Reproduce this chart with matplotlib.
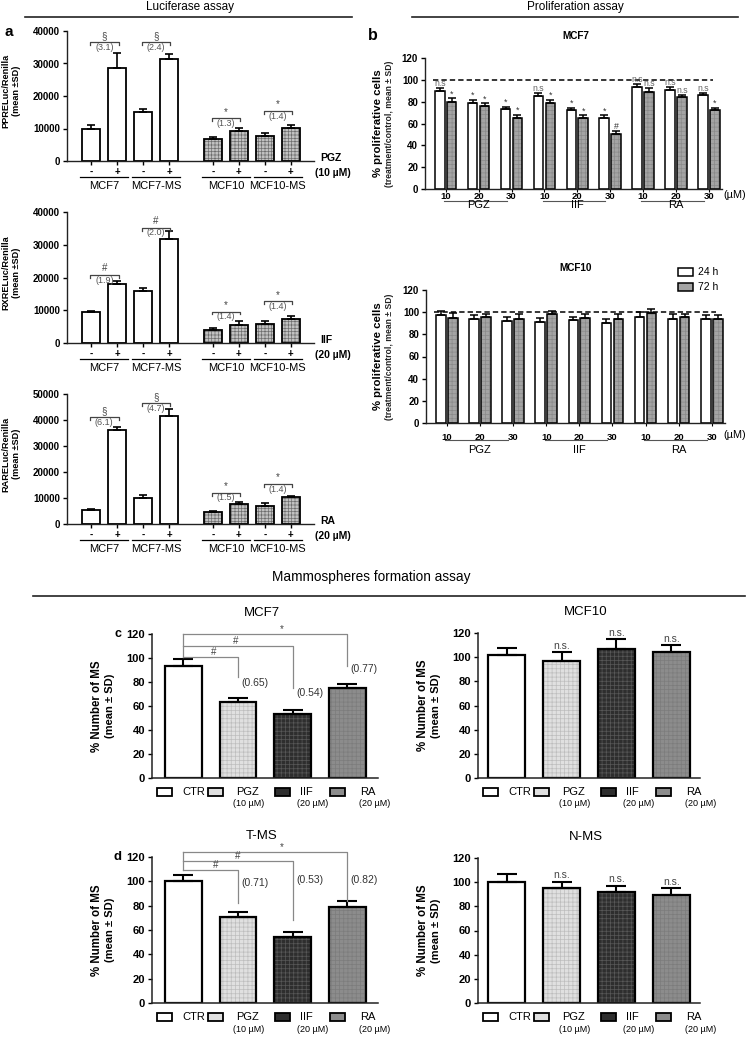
import numpy as np
import matplotlib
matplotlib.use('Agg')
import matplotlib.pyplot as plt
from matplotlib import transforms
from matplotlib.patches import Rectangle

plt.rcParams['font.family'] = ['Liberation Sans', 'DejaVu Sans']
plt.rcParams['hatch.linewidth'] = 0.5

# ---- panel a: luciferase assay ----
lucif_groups = ['MCF7', 'MCF7-MS', 'MCF10', 'MCF10-MS']
lucif_signs = ['-', '+'] * 4
ppre_mean = [10000, 28600, 15000, 31500, 6700, 9100, 7700, 10300]
ppre_err = [1000, 4500, 1000, 1500, 700, 1200, 900, 800]
ppre_sig = ['§', '§', '*', '*']
ppre_ratio = ['(3.1)', '(2.4)', '(1.3)', '(1.4)']
ppre_bracket = [36600, 36600, 13100, 15400]

rxre_mean = [9500, 18000, 15800, 31900, 4000, 5600, 5900, 7300]
rxre_err = [300, 800, 1000, 2300, 700, 1000, 700, 800]
rxre_sig = ['#', '#', '*', '*']
rxre_ratio = ['(1.9)', '(2.0)', '(1.4)', '(1.4)']
rxre_bracket = [20800, 35200, 9600, 12800]

rare_mean = [5500, 36100, 10000, 41600, 4700, 7600, 7100, 10300]
rare_err = [300, 1200, 1000, 2500, 300, 800, 900, 500]
rare_sig = ['§', '§', '*', '*']
rare_ratio = ['(6.1)', '(4.7)', '(1.5)', '(1.4)']
rare_bracket = [41000, 46400, 12000, 15400]

# ---- panel b: proliferation assay ----
prolif_conc = ['10', '20', '30'] * 3
prolif_drugs = ['PGZ', 'IIF', 'RA']
mcf7_24 = [90, 79, 73, 85, 72, 65, 93, 91, 86]
mcf7_24_err = [2.5, 2.5, 2.5, 3, 2.5, 2.5, 3.5, 2.5, 1.5]
mcf7_72 = [80, 76, 65, 79, 65, 50, 89, 84, 72]
mcf7_72_err = [3, 2.5, 3, 2.5, 2.5, 3, 3.5, 2.5, 2.5]
mcf7_24_sig = ['n.s', '*', '*', 'n.s', '*', '*', 'n.s', 'n.s', 'n.s']
mcf7_72_sig = ['*', '*', '*', '*', '*', '#', 'n.s', 'n.s', '*']
mcf10_24 = [97, 93.5, 92, 91.5, 93, 90.5, 96, 94, 93.5]
mcf10_24_err = [4, 3.5, 3.5, 3.5, 3, 3.5, 4, 4, 4]
mcf10_72 = [95, 96, 94, 98, 95, 94, 99, 96, 93.5]
mcf10_72_err = [4.5, 2.5, 4, 3.5, 3, 4, 4, 2.5, 4]

# ---- panels c, d: mammospheres ----
ms_groups = ['CTR', 'PGZ', 'IIF', 'RA']
ms_doses = ['', '(10 µM)', '(20 µM)', '(20 µM)']
mcf7_ms = [93, 63, 53, 75]
mcf7_ms_err = [6, 4, 3.5, 3]
mcf7_ms_sig = ['#', '#', '*']
mcf7_ms_ratio = ['(0.65)', '(0.54)', '(0.77)']
mcf10_ms = [102, 97, 107, 104]
mcf10_ms_err = [6, 7, 8, 6]
tms = [100, 71, 54.5, 79]
tms_err = [5, 3.5, 4, 5]
tms_sig = ['#', '#', '*']
tms_ratio = ['(0.71)', '(0.53)', '(0.82)']
nms = [100, 95.5, 92, 89]
nms_err = [7, 5, 5, 6]

W, H = 748, 1039
fig = plt.figure(figsize=(W / 100, H / 100), dpi=100)


def box(l, t, r, b):
    return [l / W, 1 - b / H, (r - l) / W, (b - t) / H]


ov = fig.add_axes([0, 0, 1, 1])
ov.set_xlim(0, W)
ov.set_ylim(H, 0)
ov.axis('off')


def below(ax, dy):
    return transforms.offset_copy(ax.get_xaxis_transform(), fig=fig, y=-dy, units='dots')


def textured_bars(ax, x, h, w, faces, hcols, hatch, lw):
    fill = ax.bar(x, h, w, color=faces, edgecolor=hcols, linewidth=0)
    for p, c in zip(fill.patches, hcols):
        if c != 'none':
            p.set_hatch(hatch)
    return ax.bar(x, h, w, fill=False, edgecolor='k', linewidth=lw)


def style_axis(ax, lw=1.0):
    ax.patch.set_visible(False)
    for s in ['top', 'right']:
        ax.spines[s].set_visible(False)
    for s in ['left', 'bottom']:
        ax.spines[s].set_linewidth(lw)
        ax.spines[s].set_color('#222222')


lucif_pos = np.r_[np.arange(4), np.arange(4) + 4.7]


def luc_panel(rect, means, errs, ymax, sig, ratio, brk, drug, dose, ylab):
    ax = fig.add_axes(box(*rect))
    x = lucif_pos
    faces = ['white'] * 4 + ['#c2c2c2'] * 4
    hcols = ['none'] * 4 + ['#6e6e6e'] * 4
    textured_bars(ax, x, means, 0.7, faces, hcols, '+++++', 1.3)
    ax.errorbar(x, means, yerr=[np.zeros(8), errs], fmt='none', ecolor='k',
                elinewidth=1.2, capsize=3, capthick=1.2)
    tick = ymax * 0.022
    for i in range(4):
        x0, x1 = x[2 * i] - 0.05, x[2 * i + 1] + 0.05
        y = brk[i]
        ax.plot([x0, x0, x1, x1], [y - tick, y, y, y - tick], color='#444444', lw=0.9, clip_on=False)
        xm = (x0 + x1) / 2
        ax.annotate(sig[i], (xm, y), xytext=(0, 1), textcoords='offset points',
                    ha='center', va='bottom', fontsize=7, color='#444444', annotation_clip=False)
        ax.annotate(ratio[i], (xm, y), xytext=(0, -0.5), textcoords='offset points',
                    ha='center', va='top', fontsize=6.5, color='#555555', annotation_clip=False)
        c = (x[2 * i] + x[2 * i + 1]) / 2
        ax.plot([c - 0.92, c + 0.92], [0, 0], transform=below(ax, 16), color='k', lw=0.9, clip_on=False)
        ax.text(c, 0, lucif_groups[i], transform=below(ax, 25), ha='center', va='center', fontsize=8)
    ax.set_xlim(-0.94, 8.6)
    ax.set_ylim(0, ymax)
    ax.set_yticks(np.arange(0, ymax + 1, 10000))
    ax.set_xticks(x, lucif_signs)
    ax.tick_params(axis='y', labelsize=7, length=3, width=1, pad=2)
    ax.tick_params(axis='x', labelsize=7, length=3, width=1, pad=1.5)
    for t in ax.get_yticklabels() + ax.get_xticklabels():
        t.set_fontweight('bold')
    style_axis(ax)
    l, t, r, b = rect
    ov.text(320, b - 3, drug, fontsize=7.5, fontweight='bold', ha='left', va='center')
    ov.text(315, b + 12, dose, fontsize=7.5, fontweight='bold', ha='left', va='center')
    ym = (t + b) / 2 - 5
    ov.text(6, ym, ylab, rotation=90, fontsize=6.6, fontweight='bold', ha='center', va='center')
    ov.text(17, ym, '(mean ±SD)', rotation=90, fontsize=6.6, fontweight='bold', ha='center', va='center')
    return ax


luc_panel((67, 31, 314, 161), ppre_mean, ppre_err, 40000, ppre_sig, ppre_ratio, ppre_bracket,
          'PGZ', '(10 µM)', 'PPRELuc/Renilla')
luc_panel((67, 212, 314, 343), rxre_mean, rxre_err, 40000, rxre_sig, rxre_ratio, rxre_bracket,
          'IIF', '(20 µM)', 'RXRELuc/Renilla')
luc_panel((67, 394, 314, 524), rare_mean, rare_err, 50000, rare_sig, rare_ratio, rare_bracket,
          'RA', '(20 µM)', 'RARELuc/Renilla')


def prolif_panel(rect, v24, e24, v72, e72, s24, s72, title, pad, dline, dname):
    ax = fig.add_axes(box(*rect))
    g = np.arange(9)
    ax.bar(g - 0.18, v24, 0.29, facecolor='white', edgecolor='k', linewidth=1.1)
    textured_bars(ax, g + 0.18, v72, 0.29, ['#a4a4a4'] * 9, ['#8a8a8a'] * 9, '++++', 1.1)
    ax.errorbar(g - 0.18, v24, yerr=[np.zeros(9), e24], fmt='none', ecolor='k',
                elinewidth=1.1, capsize=2.6, capthick=1.1)
    ax.errorbar(g + 0.18, v72, yerr=[np.zeros(9), e72], fmt='none', ecolor='k',
                elinewidth=1.1, capsize=2.6, capthick=1.1)
    ax.plot([-0.39, 8.12], [100, 100], color='k', lw=1.1, ls=(0, (3.5, 2)))
    for sigs, off, vals, errs in [(s24, -0.18, v24, e24), (s72, 0.18, v72, e72)]:
        if sigs is None:
            continue
        for i in range(9):
            col = '#666666' if sigs[i].startswith('n') else '#333333'
            ax.annotate(sigs[i], (g[i] + off, vals[i] + errs[i]), xytext=(0, 0),
                        textcoords='offset points', ha='center', va='bottom',
                        fontsize=6.3, color=col, annotation_clip=False)
    ax.set_xlim(-0.63, 8.4)
    ax.set_ylim(0, 120)
    ax.set_yticks(np.arange(0, 121, 20))
    ax.set_xticks(g, prolif_conc)
    ax.tick_params(axis='y', labelsize=7, length=3, width=1, pad=2)
    ax.tick_params(axis='x', labelsize=6.8, length=2, width=0.8, pad=pad)
    for t in ax.get_yticklabels() + ax.get_xticklabels():
        t.set_fontweight('bold')
    for k in range(3):
        ax.plot([3 * k - 0.05, 3 * k + 1.85], [0, 0], transform=below(ax, dline),
                color='#555555', lw=0.8, clip_on=False)
        ax.text(3 * k + 1, 0, prolif_drugs[k], transform=below(ax, dname),
                ha='center', va='center', fontsize=8)
    style_axis(ax)
    l, t, r, b = rect
    ov.text(746, b + (dline - 5), '(µM)', fontsize=7.8, ha='right', va='center')
    ov.text(576, t - 22, title, fontsize=7.2, fontweight='bold', ha='center', va='center')
    ym = (t + b) / 2
    ov.text(378, ym, '% proliferative cells', rotation=90, fontsize=8.2, fontweight='bold',
            ha='center', va='center')
    ov.text(390, ym, '(treatment/control, mean ± SD)', rotation=90, fontsize=6.2,
            fontweight='bold', ha='center', va='center', color='#222222')
    return ax


prolif_panel((425, 58, 722, 189), mcf7_24, mcf7_24_err, mcf7_72, mcf7_72_err,
             mcf7_24_sig, mcf7_72_sig, 'MCF7', 0.5, 11.5, 16.5)
prolif_panel((426, 290, 725, 423), mcf10_24, mcf10_24_err, mcf10_72, mcf10_72_err,
             None, None, 'MCF10', 5, 17, 27)

# legend for b
ov.add_patch(Rectangle((678, 268), 15, 8, facecolor='white', edgecolor='k', lw=1.1))
ov.add_patch(Rectangle((678, 283), 15, 8, facecolor='#a4a4a4', edgecolor='k', lw=1.1))
ov.text(698, 272, '24 h', fontsize=7.5, ha='left', va='center')
ov.text(698, 287, '72 h', fontsize=7.5, ha='left', va='center')

ms_faces = ['white', '#e0e0e0', '#2e2e2e', '#8c8c8c']
ms_hcols = ['none', '#bdbdbd', '#585858', '#7c7c7c']


def ms_panel(rect, vals, errs, title, xlim, sig=None, ratio=None, brk=None, drop=None,
             laby=None, symx=None, ns=False):
    ax = fig.add_axes(box(*rect))
    x = np.arange(4)
    textured_bars(ax, x, vals, 0.67, ms_faces, ms_hcols, '++++', 1.6)
    ax.errorbar(x, vals, yerr=[np.zeros(4), errs], fmt='none', ecolor='k',
                elinewidth=1.5, capsize=7, capthick=1.5)
    if sig is not None:
        ax.plot([0, 0], [min(brk), max(brk)], color='#888888', lw=0.9, clip_on=False)
        for i in range(3):
            ax.plot([0, i + 1, i + 1], [brk[i], brk[i], drop[i]], color='#888888', lw=0.9, clip_on=False)
            ax.annotate(sig[i], (symx[i], brk[i]), xytext=(0, 0), textcoords='offset points',
                        ha='center', va='bottom', fontsize=7, color='#444444', annotation_clip=False)
            ax.text(i + 1.06, laby[i], ratio[i], ha='left', va='center', fontsize=7.5, color='#333333')
    if ns:
        for i in range(1, 4):
            ax.annotate('n.s.', (i, vals[i] + errs[i]), xytext=(0, 1), textcoords='offset points',
                        ha='center', va='bottom', fontsize=7.5, color='#444444', annotation_clip=False)
    ax.set_xlim(*xlim)
    ax.set_ylim(0, 120)
    ax.set_yticks(np.arange(0, 121, 20))
    ax.set_xticks([])
    ax.tick_params(axis='y', labelsize=8, length=3, width=1, pad=2)
    for t in ax.get_yticklabels():
        t.set_fontweight('bold')
    style_axis(ax, 1.1)
    l, t, r, b = rect
    ov.text((l + r) / 2 - 3, t - 21, title, fontsize=9.5, ha='center', va='center')
    ym = (t + b) / 2
    ov.text(l - 55, ym, '% Number of MS', rotation=90, fontsize=8.3, fontweight='bold',
            ha='center', va='center')
    ov.text(l - 42, ym, '(mean ± SD)', rotation=90, fontsize=8, fontweight='bold',
            ha='center', va='center')
    # legend row under the axis
    ly = b + 14
    box_dx = [5, 56, 123, 178]
    txt_dx = [30, 84, 148, 208]
    sub_dx = [0, 97, 161, 223]
    for i in range(4):
        ov.add_patch(Rectangle((l + box_dx[i], ly - 4), 15, 8, facecolor=ms_faces[i],
                               edgecolor='k', lw=1.3))
        ov.text(l + txt_dx[i], ly, ms_groups[i], fontsize=8, ha='left', va='center')
        if ms_doses[i]:
            ov.text(l + sub_dx[i], ly + 12, ms_doses[i], fontsize=6.5, ha='center', va='center')
    return ax


ms_panel((152, 634, 378, 778), mcf7_ms, mcf7_ms_err, 'MCF7', (-0.57, 3.56),
         sig=mcf7_ms_sig, ratio=mcf7_ms_ratio, brk=[101, 110, 120], drop=[84, 75, 93],
         laby=[79, 71, 91], symx=[0.55, 0.95, 1.8])
ms_panel((478, 633, 700, 778), mcf10_ms, mcf10_ms_err, 'MCF10', (-0.52, 3.52), ns=True)
ms_panel((152, 857, 378, 1003), tms, tms_err, 'T-MS', (-0.57, 3.56),
         sig=tms_sig, ratio=tms_ratio, brk=[109, 116.5, 124], drop=[82, 68, 84],
         laby=[99, 101, 101], symx=[0.6, 1.0, 1.8])
ms_panel((478, 858, 700, 1003), nms, nms_err, 'N-MS', (-0.52, 3.52), ns=True)

# section headers and panel letters
ov.text(190, 7, 'Luciferase assay', fontsize=8.5, ha='center', va='center')
ov.plot([25, 352], [17, 17], color='#222222', lw=1.2)
ov.text(575, 7, 'Proliferation assay', fontsize=8.5, ha='center', va='center')
ov.plot([412, 738], [17, 17], color='#222222', lw=1.2)
ov.text(371, 577, 'Mammospheres formation assay', fontsize=9.8, ha='center', va='center')
ov.plot([33, 745], [596, 596], color='#222222', lw=1.2)
ov.text(5, 32, 'a', fontsize=11, fontweight='bold', ha='left', va='center')
ov.text(373, 36, 'b', fontsize=11.5, fontweight='bold', ha='center', va='center')
ov.text(118, 634, 'c', fontsize=9, fontweight='bold', ha='center', va='center')
ov.text(118, 857, 'd', fontsize=9.5, fontweight='bold', ha='center', va='center')

fig.savefig('out.png', dpi=100)
